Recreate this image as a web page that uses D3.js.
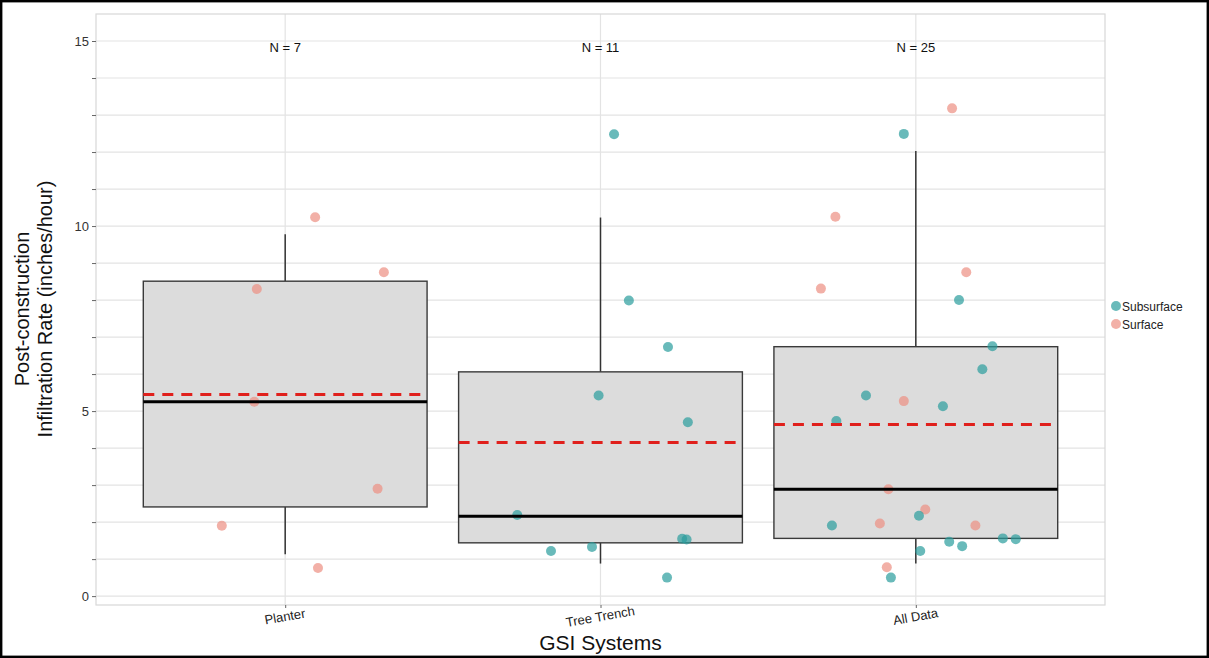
<!DOCTYPE html>
<html><head><meta charset="utf-8">
<script src="https://cdn.jsdelivr.net/npm/d3@7"></script>
<style>body{margin:0;background:#fff}svg{display:block;font-family:Arial,"Liberation Sans",sans-serif}</style>
</head><body><svg id="c" width="1209" height="658"></svg>
<script>
const categories = ["Planter", "Tree Trench", "All Data"];
const nLabels = ["N = 7", "N = 11", "N = 25"];
const yTicks = [0, 5, 10, 15];
// box statistics per category
const q1 = [2.41, 1.44, 1.56];
const medians = [5.25, 2.16, 2.89];
const q3 = [8.51, 6.06, 6.74];
const whiskerLow = [1.13, 0.88, 0.88];
const whiskerHigh = [9.78, 10.23, 12.03];
const means = [5.45, 4.15, 4.64];
const seriesNames = ["Subsurface", "Surface"];
// points: category index, jitter (category units), value
const planterSurface = [[0.095,10.24],[0.313,8.75],[-0.090,8.30],[-0.098,5.25],[0.293,2.90],[-0.201,1.90],[0.104,0.76]];
const treeTrenchSubsurface = [[0.043,12.48],[0.090,7.99],[0.214,6.73],[-0.006,5.42],[0.277,4.70],[-0.264,2.19],[-0.157,1.22],[-0.027,1.33],[0.259,1.55],[0.273,1.53],[0.211,0.50]];
const allSurface = [[0.115,13.18],[-0.255,10.25],[-0.301,8.31],[0.160,8.75],[-0.038,5.27],[-0.087,2.89],[0.030,2.34],[-0.114,1.96],[0.189,1.91],[-0.092,0.78]];
const allSubsurface = [[-0.038,12.49],[0.137,8.00],[0.243,6.75],[0.211,6.13],[-0.158,5.42],[0.086,5.13],[-0.252,4.73],[0.010,2.17],[-0.266,1.91],[0.106,1.47],[0.147,1.35],[0.276,1.56],[0.317,1.54],[0.014,1.22],[-0.079,0.50]];

const colors = {Subsurface: "#2a9d9c", Surface: "#ec8f82"};
const svg = d3.select("#c");
const L = 96, R = 1105, T = 14, B = 605;
const x = d3.scaleLinear().domain([0.4, 3.6]).range([L, R]);
const y = d3.scaleLinear().domain([-0.24, 15.73]).range([B, T]);
const boxW = 0.9;

// outer frame
svg.append("rect").attr("x",1.2).attr("y",1.2).attr("width",1206.6).attr("height",655.6)
  .attr("fill","none").attr("stroke","#000").attr("stroke-width",2.4);

// grid
const g = svg.append("g");
const gridVals = d3.range(0, 16, 1);
g.selectAll("line.hg").data(gridVals).join("line")
  .attr("x1",L).attr("x2",R).attr("y1",d=>y(d)).attr("y2",d=>y(d))
  .attr("stroke","#e3e3e3").attr("stroke-width",1.2);
g.selectAll("line.vg").data(categories).join("line")
  .attr("x1",(d,i)=>x(i+1)).attr("x2",(d,i)=>x(i+1)).attr("y1",T).attr("y2",B)
  .attr("stroke","#e3e3e3").attr("stroke-width",1.2);
g.append("rect").attr("x",L).attr("y",T).attr("width",R-L).attr("height",B-T)
  .attr("fill","none").attr("stroke","#d8d8d8").attr("stroke-width",1.2);

// y axis
const yAxis = d3.axisLeft(y).tickValues(gridVals).tickSize(4)
  .tickFormat(d => yTicks.includes(d) ? d : "");
const ya = svg.append("g").attr("transform",`translate(${L},0)`).call(yAxis);
ya.select(".domain").remove();
ya.selectAll("line").attr("stroke","#666");
ya.selectAll("text").attr("font-size",13).attr("fill","#333").attr("font-family","Arial, sans-serif");

// x axis
const xa = svg.append("g").attr("transform",`translate(0,${B})`)
  .call(d3.axisBottom(x).tickValues([1,2,3]).tickSize(3).tickFormat((d)=>categories[d-1]));
xa.select(".domain").remove();
xa.selectAll("line").attr("stroke","#666");
xa.selectAll("text").attr("font-size",13).attr("fill","#222").attr("font-family","Arial, sans-serif")
  .attr("text-anchor","middle").attr("dy",0).attr("y",0)
  .attr("transform","translate(0,16) rotate(-10)");

// boxes
const bx = svg.append("g");
categories.forEach((c,i)=>{
  const cx = i+1;
  bx.append("line").attr("x1",x(cx)).attr("x2",x(cx)).attr("y1",y(whiskerHigh[i])).attr("y2",y(q3[i]))
    .attr("stroke","#333").attr("stroke-width",1.5);
  bx.append("line").attr("x1",x(cx)).attr("x2",x(cx)).attr("y1",y(q1[i])).attr("y2",y(whiskerLow[i]))
    .attr("stroke","#333").attr("stroke-width",1.5);
  bx.append("rect").attr("x",x(cx-boxW/2)).attr("width",x(cx+boxW/2)-x(cx-boxW/2))
    .attr("y",y(q3[i])).attr("height",y(q1[i])-y(q3[i]))
    .attr("fill","#dcdcdc").attr("stroke","#3a3a3a").attr("stroke-width",1.4);
});

// points
function drawPts(arr, ci, s){
  svg.append("g").selectAll("circle").data(arr).join("circle")
    .attr("cx",d=>x(ci+1+d[0])).attr("cy",d=>y(d[1])).attr("r",5)
    .attr("fill",colors[s]).attr("fill-opacity",0.7);
}
drawPts(planterSurface,0,"Surface");
drawPts(treeTrenchSubsurface,1,"Subsurface");
drawPts(allSurface,2,"Surface");
drawPts(allSubsurface,2,"Subsurface");

// median & mean lines
categories.forEach((c,i)=>{
  const cx=i+1;
  svg.append("line").attr("x1",x(cx-boxW/2)).attr("x2",x(cx+boxW/2)).attr("y1",y(medians[i])).attr("y2",y(medians[i]))
    .attr("stroke","#000").attr("stroke-width",3);
  svg.append("line").attr("x1",x(cx-boxW/2)).attr("x2",x(cx+boxW/2)).attr("y1",y(means[i])).attr("y2",y(means[i]))
    .attr("stroke","#e0201c").attr("stroke-width",3).attr("stroke-dasharray","11,8");
  svg.append("text").attr("x",x(cx)).attr("y",52).attr("text-anchor","middle")
    .attr("font-size",13).attr("fill","#111").text(nLabels[i]);
});

// axis titles
svg.append("text").attr("transform","translate(29,309) rotate(-90)").attr("text-anchor","middle")
  .attr("font-size",20).attr("fill","#111").text("Post-construction");
svg.append("text").attr("transform","translate(52,309) rotate(-90)").attr("text-anchor","middle")
  .attr("font-size",20).attr("fill","#111").text("Infiltration Rate (inches/hour)");
svg.append("text").attr("x",x(2)).attr("y",650).attr("text-anchor","middle")
  .attr("font-size",21).attr("fill","#111").text("GSI Systems");

// legend
const lg = svg.append("g");
seriesNames.forEach((s,i)=>{
  lg.append("circle").attr("cx",1116).attr("cy",306+i*18).attr("r",5).attr("fill",colors[s]).attr("fill-opacity",0.7);
  lg.append("text").attr("x",1122).attr("y",310.5+i*18).attr("font-size",12).attr("fill","#222").text(s);
});
</script></body></html>
